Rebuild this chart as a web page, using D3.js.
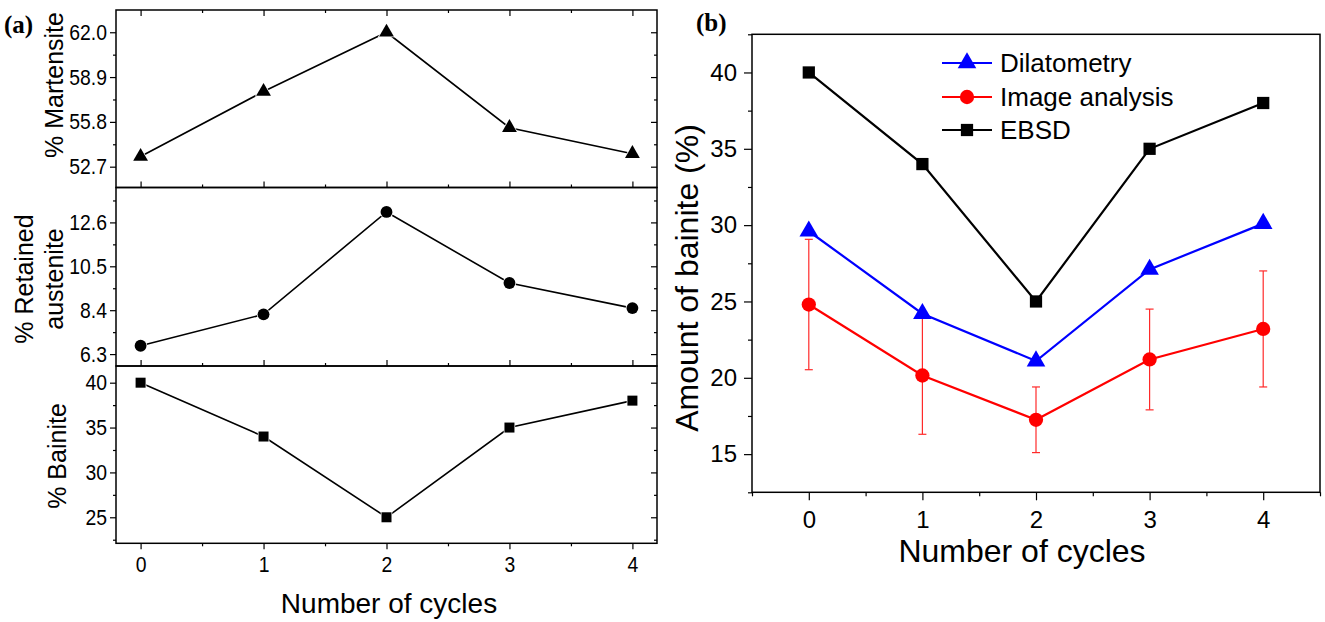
<!DOCTYPE html>
<html>
<head>
<meta charset="utf-8">
<script src="https://cdn.jsdelivr.net/npm/d3@7"></script>
<style>
  body { margin: 0; background: #fff; }
  text { font-family: "Liberation Sans", Arial, sans-serif; fill: #000; }
</style>
</head>
<body>
<script>
// data
var cycles = [0, 1, 2, 3, 4];
var martensite = [53.4, 57.9, 62.0, 55.4, 53.6];
var retainedAustenite = [6.7, 8.2, 13.1, 9.7, 8.5];
var bainiteA = [40, 34, 25, 35, 38];

var dilatometry = [29.6, 24.2, 21.1, 27.1, 30.1];
var imageAnalysis = [24.8, 20.15, 17.25, 21.2, 23.2];
var imageErr = [4.27, 3.85, 2.15, 3.3, 3.8];
var ebsd = [40, 34, 25, 35, 38];

var martTicks = [52.7, 55.8, 58.9, 62.0];
var raTicks = [6.3, 8.4, 10.5, 12.6];
var bainTicksA = [25, 30, 35, 40];
var bainTicksB = [15, 20, 25, 30, 35, 40];
var legendNames = ["Dilatometry", "Image analysis", "EBSD"];

var w = 1325, h = 622;
var svg = d3.select("body").append("svg")
  .attr("width", w)
  .attr("height", h);

// squeeze glyphs a bit, the tick labels in (a) are narrow
function condense(sel, k) {
  sel.each(function() {
    var len = this.getComputedTextLength();
    if (len > 0) d3.select(this).attr("textLength", len * k).attr("lengthAdjust", "spacingAndGlyphs");
  });
}

// ---------- panel (a) ----------
var xa = d3.scaleLinear().domain([-0.2, 4.2]).range([116, 657]);
var xMinorA = [0.5, 1.5, 2.5, 3.5];

var panels = [
  {vals: martensite, ticks: martTicks, step: 3.1, dom: [51.26, 63.54], top: 10, bottom: 187.5,
   marker: d3.symbolTriangle, size: 95, label: ["% Martensite"], labelY: 85, fmt: d3.format(".1f")},
  {vals: retainedAustenite, ticks: raTicks, step: 2.1, dom: [5.73, 14.27], top: 187.5, bottom: 366,
   marker: d3.symbolCircle, size: 110, label: ["% Retained", "austenite"], labelY: 279, fmt: d3.format(".1f")},
  {vals: bainiteA, ticks: bainTicksA, step: 5, dom: [22.1, 41.86], top: 366, bottom: 543.3,
   marker: d3.symbolSquare, size: 100, label: ["% Bainite"], labelY: 456, fmt: d3.format("d")}
];

function styleAxis(g, size) {
  g.select(".domain").remove();
  g.selectAll("line").attr("stroke", "#000").attr("stroke-width", 1.2);
  g.selectAll("text").style("font-family", "'Liberation Sans', Arial, sans-serif")
    .style("font-size", size + "px").attr("fill", "#000");
}

panels.forEach(function(p, i) {
  var y = d3.scaleLinear().domain(p.dom).range([p.bottom, p.top]);
  var minor = p.ticks.map(function(t) { return t - p.step / 2; })
    .concat([p.ticks[p.ticks.length - 1] + p.step / 2])
    .filter(function(t) { return t >= p.dom[0] && t <= p.dom[1]; });

  // left ticks outward
  svg.append("g").attr("transform", "translate(116,0)")
    .call(d3.axisLeft(y).tickValues(p.ticks).tickSize(6).tickPadding(3).tickFormat(p.fmt))
    .call(styleAxis, 22)
    .call(function(g) { condense(g.selectAll("text"), 0.88); });
  svg.append("g").attr("transform", "translate(116,0)")
    .call(d3.axisLeft(y).tickValues(minor).tickSize(3).tickFormat(""))
    .call(styleAxis, 22);
  // right ticks inward
  svg.append("g").attr("transform", "translate(657,0)")
    .call(d3.axisLeft(y).tickValues(p.ticks).tickSize(6).tickFormat(""))
    .call(styleAxis, 22);
  svg.append("g").attr("transform", "translate(657,0)")
    .call(d3.axisLeft(y).tickValues(minor).tickSize(3).tickFormat(""))
    .call(styleAxis, 22);

  if (i == 0) {
    // top edge, inward
    svg.append("g").attr("transform", "translate(0," + p.top + ")")
      .call(d3.axisBottom(xa).tickValues(cycles).tickSize(6).tickFormat(""))
      .call(styleAxis, 22);
    svg.append("g").attr("transform", "translate(0," + p.top + ")")
      .call(d3.axisBottom(xa).tickValues(xMinorA).tickSize(3).tickFormat(""))
      .call(styleAxis, 22);
  }
  if (i < 2) {
    // shared edge, ticks point up into this panel
    svg.append("g").attr("transform", "translate(0," + p.bottom + ")")
      .call(d3.axisTop(xa).tickValues(cycles).tickSize(6).tickFormat(""))
      .call(styleAxis, 22);
    svg.append("g").attr("transform", "translate(0," + p.bottom + ")")
      .call(d3.axisTop(xa).tickValues(xMinorA).tickSize(3).tickFormat(""))
      .call(styleAxis, 22);
  } else {
    svg.append("g").attr("transform", "translate(0," + p.bottom + ")")
      .call(d3.axisBottom(xa).tickValues(cycles).tickSize(6).tickPadding(7).tickFormat(d3.format("d")))
      .call(styleAxis, 22)
      .call(function(g) { condense(g.selectAll("text"), 0.88); });
    svg.append("g").attr("transform", "translate(0," + p.bottom + ")")
      .call(d3.axisBottom(xa).tickValues(xMinorA).tickSize(3).tickFormat(""))
      .call(styleAxis, 22);
  }

  svg.append("rect")
    .attr("x", 116).attr("y", p.top)
    .attr("width", 657 - 116).attr("height", p.bottom - p.top)
    .attr("fill", "none").attr("stroke", "#000").attr("stroke-width", 1.5);

  var line = d3.line()
    .x(function(d, j) { return xa(cycles[j]); })
    .y(function(d) { return y(d); });
  svg.append("path").datum(p.vals)
    .attr("d", line).attr("fill", "none")
    .attr("stroke", "#000").attr("stroke-width", 1.6);

  svg.selectAll(null).data(p.vals).enter().append("path")
    .attr("d", d3.symbol().type(p.marker).size(p.size))
    .attr("transform", function(d, j) { return "translate(" + xa(cycles[j]) + "," + y(d) + ")"; })
    .attr("fill", "#000").attr("stroke", "#fff").attr("stroke-width", 1.5)
    .attr("paint-order", "stroke");

  // y label
  var lbl = svg.append("text")
    .attr("transform", "translate(0," + p.labelY + ") rotate(-90)")
    .attr("text-anchor", "middle")
    .style("font-size", "25px");
  if (p.label.length == 1) {
    lbl.append("tspan").attr("x", 0).attr("y", i == 2 ? 66 : 63).text(p.label[0]);
  } else {
    lbl.append("tspan").attr("x", 0).attr("y", 33).text(p.label[0]);
    lbl.append("tspan").attr("x", 0).attr("y", 63).text(p.label[1]);
  }
});

svg.append("text")
  .attr("x", 389).attr("y", 613)
  .attr("text-anchor", "middle")
  .style("font-size", "28px")
  .text("Number of cycles");

svg.append("text")
  .attr("x", 4).attr("y", 33)
  .style("font-family", "'Liberation Serif', 'Times New Roman', serif")
  .style("font-weight", "bold")
  .style("font-size", "25px")
  .text("(a)");

// ---------- panel (b) ----------
var bl = 752, br = 1320, bt = 34.3, bb = 492.3;
var xb = d3.scaleLinear().domain([-0.5, 4.5]).range([bl, br]);
var yb = d3.scaleLinear().domain([12.5, 42.5]).range([bb, bt]);

svg.append("g").attr("transform", "translate(" + bl + ",0)")
  .call(d3.axisLeft(yb).tickValues(bainTicksB).tickSize(8).tickPadding(7).tickFormat(d3.format("d")))
  .call(styleAxis, 24);
svg.append("g").attr("transform", "translate(" + bl + ",0)")
  .call(d3.axisLeft(yb).tickValues([12.5, 17.5, 22.5, 27.5, 32.5, 37.5, 42.5]).tickSize(4).tickFormat(""))
  .call(styleAxis, 24);
svg.append("g").attr("transform", "translate(0," + bb + ")")
  .call(d3.axisBottom(xb).tickValues(cycles).tickSize(8).tickPadding(11).tickFormat(d3.format("d")))
  .call(styleAxis, 24);
svg.append("g").attr("transform", "translate(0," + bb + ")")
  .call(d3.axisBottom(xb).tickValues([-0.5, 0.5, 1.5, 2.5, 3.5, 4.5]).tickSize(4).tickFormat(""))
  .call(styleAxis, 24);

svg.append("rect")
  .attr("x", bl).attr("y", bt)
  .attr("width", br - bl).attr("height", bb - bt)
  .attr("fill", "none").attr("stroke", "#000").attr("stroke-width", 1.5);

var lineB = d3.line()
  .x(function(d, j) { return xb(cycles[j]); })
  .y(function(d) { return yb(d); });

// error bars
var eb = svg.append("g").attr("stroke", "#ff2a2a").attr("stroke-width", 1.2);
imageAnalysis.forEach(function(v, j) {
  var cx = xb(cycles[j]);
  eb.append("line").attr("x1", cx).attr("x2", cx)
    .attr("y1", yb(v - imageErr[j])).attr("y2", yb(v + imageErr[j]));
  [v - imageErr[j], v + imageErr[j]].forEach(function(e) {
    eb.append("line").attr("x1", cx - 4).attr("x2", cx + 4)
      .attr("y1", yb(e)).attr("y2", yb(e));
  });
});

var seriesB = [
  {vals: ebsd, color: "#000", marker: d3.symbolSquare, size: 150},
  {vals: dilatometry, color: "#0000ff", marker: d3.symbolTriangle, size: 150},
  {vals: imageAnalysis, color: "#ff0000", marker: d3.symbolCircle, size: 160}
];

seriesB.forEach(function(s) {
  svg.append("path").datum(s.vals)
    .attr("d", lineB).attr("fill", "none")
    .attr("stroke", s.color).attr("stroke-width", 2.2);
  svg.selectAll(null).data(s.vals).enter().append("path")
    .attr("d", d3.symbol().type(s.marker).size(s.size))
    .attr("transform", function(d, j) { return "translate(" + xb(cycles[j]) + "," + yb(d) + ")"; })
    .attr("fill", s.color);
});

// legend
var legendOrder = [seriesB[1], seriesB[2], seriesB[0]];
var legendY = [63, 97, 130];
legendOrder.forEach(function(s, k) {
  svg.append("line")
    .attr("x1", 942).attr("x2", 992)
    .attr("y1", legendY[k]).attr("y2", legendY[k])
    .attr("stroke", s.color).attr("stroke-width", 2.2);
  svg.append("path")
    .attr("d", d3.symbol().type(s.marker).size(s.size))
    .attr("transform", "translate(967," + legendY[k] + ")")
    .attr("fill", s.color);
  svg.append("text")
    .attr("x", 1000).attr("y", legendY[k] + 8.5)
    .style("font-size", "26px")
    .text(legendNames[k]);
});

svg.append("text")
  .attr("transform", "translate(698,278) rotate(-90)")
  .attr("text-anchor", "middle")
  .style("font-size", "32px")
  .text("Amount of bainite (%)");

svg.append("text")
  .attr("x", 1022).attr("y", 562)
  .attr("text-anchor", "middle")
  .style("font-size", "32px")
  .text("Number of cycles");

svg.append("text")
  .attr("x", 696).attr("y", 31)
  .style("font-family", "'Liberation Serif', 'Times New Roman', serif")
  .style("font-weight", "bold")
  .style("font-size", "25px")
  .text("(b)");
</script>
</body>
</html>
